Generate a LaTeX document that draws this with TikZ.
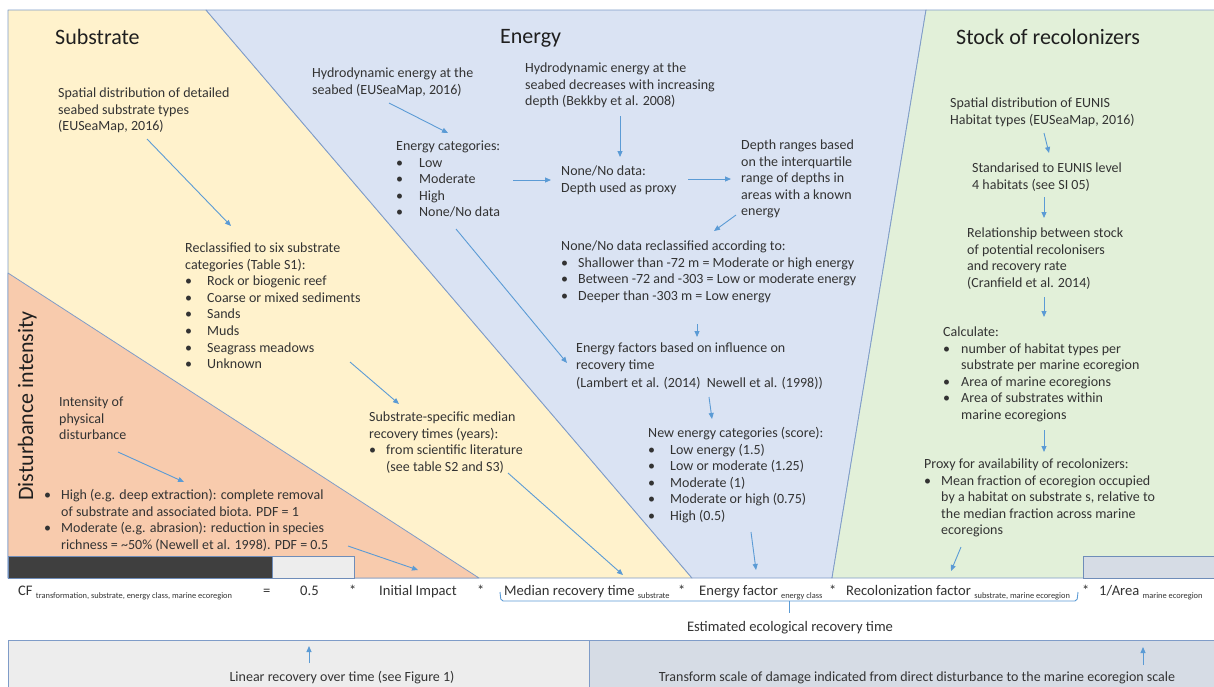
\documentclass[tikz,border=0pt]{standalone}
\usepackage{fontspec}
\setmainfont{Carlito}
\usetikzlibrary{arrows.meta}

\definecolor{substfill}{HTML}{FFF2CC}
\definecolor{energyfill}{HTML}{DAE3F3}
\definecolor{stockfill}{HTML}{E2F0D9}
\definecolor{distfill}{HTML}{F8CBAD}
\definecolor{edgeblue}{HTML}{7F9CC8}
\definecolor{boxedge}{HTML}{6F8DB9}
\definecolor{arrowblue}{HTML}{5B9BD5}
\definecolor{ink}{HTML}{333333}
\definecolor{greybox}{HTML}{EDEDED}
\definecolor{slatebox}{HTML}{D6DCE5}
\definecolor{darkbar}{HTML}{3F3F3F}

\newcommand{\itemdot}[1]{\makebox[#1][l]{\textbullet}}
\newcommand{\lowtag}[1]{\raisebox{-3.5pt}{\fontsize{8.4}{10}\selectfont #1}}

% multi-line text blocks are placed by the baseline of their last line
\tikzset{
  panel/.style={draw=edgeblue, line width=0.8pt, line join=round},
  body/.style={anchor=base west, inner sep=0pt, align=left, text=ink,
               font=\fontsize{14}{16.6}\selectfont},
  heading/.style={anchor=base west, inner sep=0pt, text=black!88,
                  font=\fontsize{22}{26}\selectfont},
  term/.style={anchor=base west, inner sep=0pt, text=ink,
               font=\fontsize{14.6}{18}\selectfont},
  flow/.style={draw=arrowblue, line width=0.9pt, -{Triangle[length=6pt,width=5pt]}},
  bracket/.style={draw=arrowblue, line width=0.9pt, rounded corners=2pt},
}

\begin{document}
\begin{tikzpicture}[x=1pt, y=-1pt]
\useasboundingbox (0,0) rectangle (1214,686);
\fill[white] (0,0) rectangle (1214,686);

% ---- background panels ----
\filldraw[panel, fill=substfill]  (8,10) -- (206,10) -- (692,578) -- (8,578) -- cycle;
\filldraw[panel, fill=energyfill] (206,10) -- (926,10) -- (832,578) -- (692,578) -- cycle;
\filldraw[panel, fill=stockfill]  (926,10) -- (1216,10) -- (1216,578) -- (832,578) -- cycle;
\filldraw[panel, fill=distfill]   (8,273) -- (479,578) -- (8,578) -- cycle;

% intensity scale bar and area box
\filldraw[draw=boxedge, line width=0.8pt, fill=darkbar] (8,556) rectangle (272,578);
\filldraw[draw=boxedge, line width=0.8pt, fill=greybox] (272,556) rectangle (354,578);
\filldraw[draw=boxedge, line width=1pt, fill=slatebox] (1083,556) rectangle (1218,578);

% ---- bottom boxes ----
\filldraw[draw=edgeblue, line width=0.8pt, fill=greybox]  (8,640) rectangle (589,690);
\filldraw[draw=edgeblue, line width=0.8pt, fill=slatebox] (589,640) rectangle (1218,690);

% ---- Substrate ----
\node[heading] (subtitle) at (55,44) {Substrate};
\node[body] (subsrc) at (58,130.7) {Spatial distribution of detailed\\seabed substrate types\\(EUSeaMap, 2016)};
\node[body] (subcat) at (185,368.7) {Reclassified to six substrate\\categories (Table S1):\\
  \itemdot{22pt}Rock or biogenic reef\\
  \itemdot{22pt}Coarse or mixed sediments\\
  \itemdot{22pt}Sands\\
  \itemdot{22pt}Muds\\
  \itemdot{22pt}Seagrass meadows\\
  \itemdot{22pt}Unknown};
\node[body] (subtime) at (369,471.3) {Substrate-specific median\\recovery times (years):\\
  \itemdot{17pt}from scientific literature\\
  \hspace*{17pt}(see table S2 and S3)};

% ---- Disturbance intensity ----
\node[heading, rotate=90, anchor=base] (disttitle) at (33,406) {Disturbance intensity};
\node[body] (distsrc) at (59,439.7) {Intensity of\\physical\\disturbance};
\node[body] (distlist) at (44,549.3) {%
  \itemdot{17pt}High (e.g. deep extraction): complete removal\\
  \hspace*{17pt}of substrate and associated biota. PDF = 1\\
  \itemdot{17pt}Moderate (e.g. abrasion): reduction in species\\
  \hspace*{17pt}richness = \textasciitilde 50\% (Newell et al. 1998). PDF = 0.5};

% ---- Energy ----
\node[heading] (entitle) at (500,43) {Energy};
\node[body] (ensrc) at (312,94.1) {Hydrodynamic energy at the\\seabed (EUSeaMap, 2016)};
\node[body] (encat) at (396,216.9) {Energy categories:\\
  \itemdot{23pt}Low\\
  \itemdot{23pt}Moderate\\
  \itemdot{23pt}High\\
  \itemdot{23pt}None/No data};
\node[body] (depthsrc) at (525,105.7) {Hydrodynamic energy at the\\seabed decreases with increasing\\depth (Bekkby et al. 2008)};
\node[body] (proxy) at (561,192.1) {None/No data:\\Depth used as proxy};
\node[body] (ranges) at (741,215.9) {Depth ranges based\\on the interquartile\\range of depths in\\areas with a known\\energy};
\node[body] (reclass) at (561,300.3) {None/No data reclassified according to:\\
  \itemdot{17pt}Shallower than -72 m = Moderate or high energy\\
  \itemdot{17pt}Between -72 and -303 = Low or moderate energy\\
  \itemdot{17pt}Deeper than -303 m = Low energy};
\node[body] (factors) at (576,387.1) {Energy factors based on influence on\\recovery time\\[1.4pt](Lambert et al. (2014)\ \ Newell et al. (1998))};
\node[body] (newcat) at (648,520.5) {New energy categories (score):\\
  \itemdot{22pt}Low energy (1.5)\\
  \itemdot{22pt}Low or moderate (1.25)\\
  \itemdot{22pt}Moderate (1)\\
  \itemdot{22pt}Moderate or high (0.75)\\
  \itemdot{22pt}High (0.5)};

% ---- Stock of recolonizers ----
\node[heading] (sttitle) at (956,44) {Stock of recolonizers};
\node[body] (eunis) at (950,124.1) {Spatial distribution of EUNIS\\Habitat types (EUSeaMap, 2016)};
\node[body] (level4) at (972,189.1) {Standarised to EUNIS level\\4 habitats (see SI 05)};
\node[body] (relation) at (967,287.3) {Relationship between stock\\of potential recolonisers\\and recovery rate\\(Cranfield et al. 2014)};
\node[body] (calc) at (943,419.5) {Calculate:\\
  \itemdot{18pt}number of habitat types per\\
  \hspace*{18pt}substrate per marine ecoregion\\
  \itemdot{18pt}Area of marine ecoregions\\
  \itemdot{18pt}Area of substrates within\\
  \hspace*{18pt}marine ecoregions};
\node[body] (avail) at (924,534.9) {Proxy for availability of recolonizers:\\
  \itemdot{17pt}Mean fraction of ecoregion occupied\\
  \hspace*{17pt}by a habitat on substrate s, relative to\\
  \hspace*{17pt}the median fraction across marine\\
  \hspace*{17pt}ecoregions};

% ---- characterisation factor ----
\node[term] (cf)     at (18,595)   {CF \lowtag{transformation, substrate, energy class, marine ecoregion}};
\node[term] (eq)     at (263,595)  {=};
\node[term] (half)   at (300,595)  {0.5};
\node[term] (m1)     at (349,595)  {*};
\node[term] (impact) at (379,595)  {Initial Impact};
\node[term] (m2)     at (477,595)  {*};
\node[term] (median) at (504,595)  {Median recovery time \lowtag{substrate}};
\node[term] (m3)     at (678,595)  {*};
\node[term] (efac)   at (699,595)  {Energy factor \lowtag{energy class}};
\node[term] (m4)     at (829,595)  {*};
\node[term] (rfac)   at (846,595)  {Recolonization factor \lowtag{substrate, marine ecoregion}};
\node[term] (m5)     at (1082,595) {*};
\node[term] (area)   at (1099,595) {1/Area \lowtag{marine ecoregion}};

\node[term, anchor=base] (estim) at (790,631.5) {Estimated ecological recovery time};
\node[body, anchor=base] (linear) at (342,681.5) {Linear recovery over time (see Figure 1)};
\node[body, anchor=base] (scale) at (917,681.5) {Transform scale of damage indicated from direct disturbance to the marine ecoregion scale};

% bracket grouping the recovery-time terms
\coordinate (brL) at (500,592);
\coordinate (brR) at (1078,592);
\coordinate (brM) at (789,601);
\coordinate (brTip) at (789,613);
\draw[bracket] (brL) -- (501,601) -- (1077,601) -- (brR);
\draw[draw=arrowblue, line width=0.9pt] (brM) -- (brTip);

% ---- connector end points ----
\coordinate (a1) at (147,139);  \coordinate (b1) at (231,226);
\coordinate (a2) at (350,362);  \coordinate (b2) at (399,404);
\coordinate (a3) at (508,473);  \coordinate (b3) at (623,575);
\coordinate (a4) at (118,452);  \coordinate (b4) at (184,482);
\coordinate (a5) at (348,546);  \coordinate (b5) at (418,570);
\coordinate (a6) at (389,103);  \coordinate (b6) at (448,133);
\coordinate (a7) at (513,180);  \coordinate (b7) at (551,180);
\coordinate (a8) at (620,116);  \coordinate (b8) at (620,157);
\coordinate (a9) at (688,179);  \coordinate (b9) at (731,179);
\coordinate (a10) at (736,215); \coordinate (b10) at (714,231);
\coordinate (a11) at (456,229); \coordinate (b11) at (567,363);
\coordinate (a12) at (697,324); \coordinate (b12) at (697,337);
\coordinate (a13) at (709,397); \coordinate (b13) at (712,419);
\coordinate (a14) at (751,532); \coordinate (b14) at (756,570);
\coordinate (a15) at (1044,133); \coordinate (b15) at (1049,153);
\coordinate (a16) at (1044,197); \coordinate (b16) at (1044,218);
\coordinate (a17) at (1044,297); \coordinate (b17) at (1044,317);
\coordinate (a18) at (1044,430); \coordinate (b18) at (1044,452);
\coordinate (a19) at (961,547); \coordinate (b19) at (951,571);
\coordinate (a20) at (309,663); \coordinate (b20) at (309,646);
\coordinate (a21) at (1143,665); \coordinate (b21) at (1143,647);

\foreach \k in {1,...,21} \draw[flow] (a\k) -- (b\k);

\end{tikzpicture}
\end{document}
